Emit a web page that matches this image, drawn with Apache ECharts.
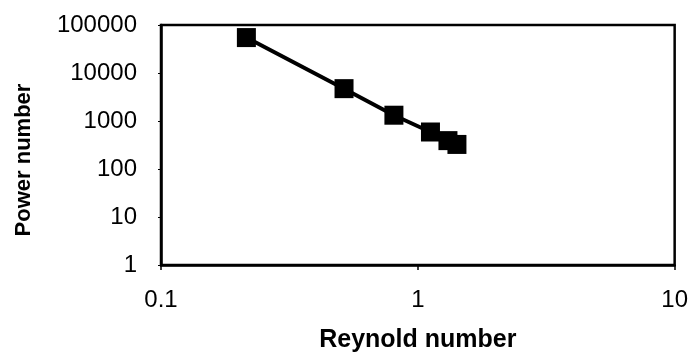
<!DOCTYPE html>
<html>
<head>
<meta charset="utf-8">
<script src="https://cdn.jsdelivr.net/npm/echarts@6/dist/echarts.min.js"></script>
<style>
html,body{margin:0;padding:0;background:#fff;}
#c{width:691px;height:358px;}
</style>
</head>
<body>
<div id="c"></div>
<script>
// Data
const reynolds = [0.215, 0.516, 0.807, 1.12, 1.31, 1.42];
const power = [54700, 4720, 1320, 590, 390, 325];
const xTicks = [0.1, 1, 10];
const yTicks = [1, 10, 100, 1000, 10000, 100000];
const xTitle = 'Reynold number';
const yTitle = 'Power number';

const chart = echarts.init(document.getElementById('c'), null, {renderer: 'canvas'});
const font = '"Liberation Sans", Arial, sans-serif';
chart.setOption({
  animation: false,
  backgroundColor: '#fff',
  grid: {
    left: 161, right: 14, top: 25, bottom: 89,
    show: true, borderColor: '#000', borderWidth: 2.5, backgroundColor: 'transparent'
  },
  graphic: [{
    type: 'text',
    rotation: Math.PI / 2,
    x: 24, y: 160,
    style: {
      text: yTitle, fill: '#000',
      font: 'bold 22px ' + font,
      align: 'center', verticalAlign: 'middle'
    }
  }],
  xAxis: {
    type: 'log', logBase: 10, min: xTicks[0], max: xTicks[xTicks.length - 1],
    name: xTitle, nameLocation: 'middle', nameGap: 63,
    nameTextStyle: {fontFamily: font, fontWeight: 'bold', fontSize: 25, color: '#000'},
    axisLine: {show: true, lineStyle: {color: '#000', width: 2.5}},
    axisTick: {show: true, length: 5, lineStyle: {color: '#000', width: 1.5}},
    splitLine: {show: false},
    axisLabel: {
      fontFamily: font, fontSize: 24, color: '#000', margin: 23,
      formatter: v => String(v)
    }
  },
  yAxis: {
    type: 'log', logBase: 10, min: yTicks[0], max: yTicks[yTicks.length - 1],
    axisLine: {show: true, lineStyle: {color: '#000', width: 2.5}},
    axisTick: {show: true, length: 3, lineStyle: {color: '#000', width: 1}},
    splitLine: {show: false},
    axisLabel: {
      fontFamily: font, fontSize: 24, color: '#000', margin: 24,
      formatter: v => String(Math.round(v))
    }
  },
  series: [{
    type: 'line',
    data: reynolds.map((x, i) => [x, power[i]]),
    symbol: 'rect', symbolSize: 19,
    lineStyle: {color: '#000', width: 4},
    itemStyle: {color: '#000', borderWidth: 0},
    z: 3
  }]
});
</script>
</body>
</html>
